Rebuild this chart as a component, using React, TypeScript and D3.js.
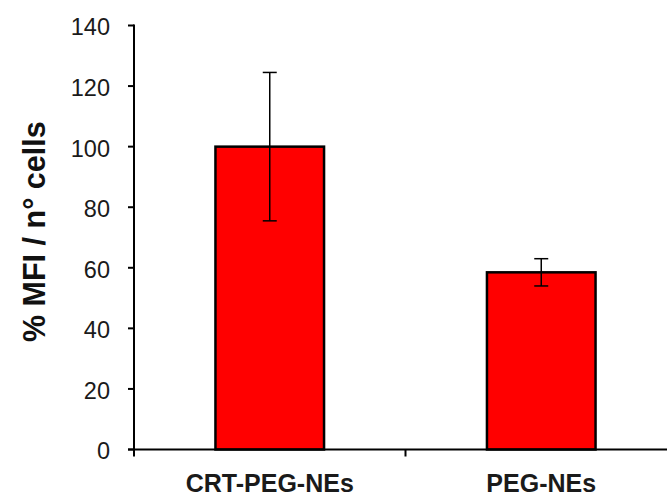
import React from 'react';
import * as d3 from 'd3';

const categories = ['CRT-PEG-NEs', 'PEG-NEs'];
const means = [100, 58.5];
const errors = [24.5, 4.5];
const yTicks = [0, 20, 40, 60, 80, 100, 120, 140];

const width = 667;
const height = 496;
const axisX = 134;
const axisY = 449.5;

const App: React.FC = () => {
  const x = d3.scaleBand<string>().domain(categories).range([axisX, axisX + 543]).paddingInner(0).paddingOuter(0);
  const y = d3.scaleLinear().domain([0, 140]).range([axisY, 25.5]);
  const barW = x.bandwidth() * 0.4;
  const capW = 14;
  // boundaries of the category bands, where the x ticks go
  const bounds = [axisX, ...categories.map(c => (x(c) as number) + x.bandwidth())];

  return (
    <svg width={width} height={height} style={{ position: 'absolute', left: 0, top: 0, background: '#fff' }}
      fontFamily="'Liberation Sans', Arial, sans-serif">
      {categories.map((c, i) => {
        const cx = (x(c) as number) + x.bandwidth() / 2;
        return (
          <g key={c}>
            <rect x={cx - barW / 2} y={y(means[i])} width={barW} height={axisY - y(means[i])}
              fill="#ff0000" stroke="#000" strokeWidth={2.5} />
            <line x1={cx} x2={cx} y1={y(means[i] + errors[i])} y2={y(means[i] - errors[i])} stroke="#000" strokeWidth={1.5} />
            <line x1={cx - capW / 2} x2={cx + capW / 2} y1={y(means[i] + errors[i])} y2={y(means[i] + errors[i])} stroke="#000" strokeWidth={1.5} />
            <line x1={cx - capW / 2} x2={cx + capW / 2} y1={y(means[i] - errors[i])} y2={y(means[i] - errors[i])} stroke="#000" strokeWidth={1.5} />
            <text x={cx} y={492} textAnchor="middle" fontWeight="bold" fontSize={25} fill="#1a1a1a">{c}</text>
          </g>
        );
      })}

      {/* y axis */}
      <line x1={axisX} x2={axisX} y1={y(140) - 1} y2={axisY} stroke="#000" strokeWidth={2} />
      {yTicks.map(t => (
        <g key={t}>
          <line x1={axisX - 6} x2={axisX} y1={y(t)} y2={y(t)} stroke="#000" strokeWidth={2} />
          <text x={110} y={y(t)} dy="0.42em" textAnchor="end" fontSize={23.5} fill="#1a1a1a">{t}</text>
        </g>
      ))}

      {/* x axis */}
      <line x1={axisX - 6} x2={width} y1={axisY} y2={axisY} stroke="#000" strokeWidth={2} />
      {bounds.map((b, i) => (
        <line key={i} x1={b} x2={b} y1={axisY} y2={axisY + 7} stroke="#000" strokeWidth={2} />
      ))}

      <text transform={`translate(45, 231.7) rotate(-90)`} textAnchor="middle" fontWeight="bold" fontSize={30.5} fill="#111">
        % MFI / n° cells
      </text>
    </svg>
  );
};

export default App;
